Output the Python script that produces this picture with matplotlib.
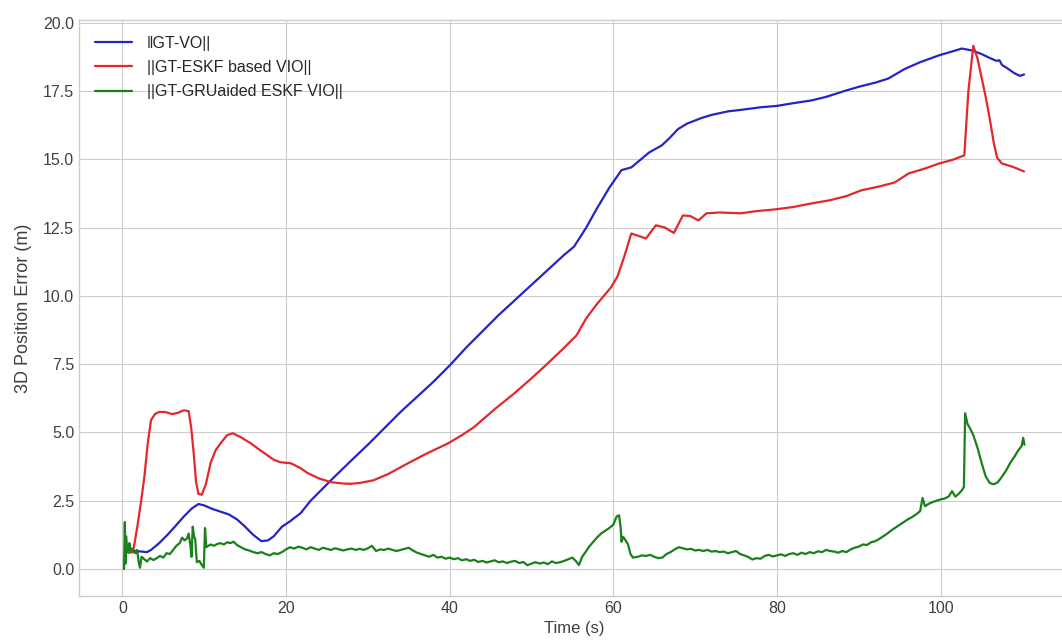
import matplotlib
matplotlib.use("Agg")
import matplotlib.pyplot as plt

plt.style.use("seaborn-v0_8-whitegrid")
plt.rcParams["font.family"] = ["Liberation Sans", "DejaVu Sans"]

# ||GT-VO||
vo_t = [0.5, 1.2, 2.0, 3.0, 3.5, 4.5, 5.5, 6.5, 7.5, 8.5, 9.3, 10.0, 11.0, 12.0,
        13.0, 14.0, 15.0, 16.0, 17.0, 17.8, 18.5, 19.5, 20.5, 21.8, 23.0, 24.5,
        26.0, 28.0, 30.0, 32.0, 34.0, 36.0, 38.0, 40.0, 42.0, 44.0, 46.0, 48.0,
        50.0, 52.0, 54.0, 55.2, 56.7, 58.0, 59.5, 61.0, 62.2, 63.2, 64.4, 65.9,
        66.8, 67.9, 69.0, 70.7, 72.0, 74.0, 76.0, 78.0, 80.0, 82.0, 84.2, 86.0,
        88.3, 90.0, 92.0, 93.6, 95.6, 97.5, 99.8, 101.5, 102.6, 103.8, 105.0,
        105.9, 106.8, 107.2, 107.5, 108.3, 109.0, 109.7, 110.2]
vo_err = [0.70, 0.67, 0.65, 0.62, 0.70, 0.95, 1.25, 1.58, 1.92, 2.22, 2.38, 2.33,
          2.20, 2.10, 2.00, 1.82, 1.55, 1.25, 1.02, 1.05, 1.20, 1.55, 1.75, 2.05,
          2.50, 2.95, 3.40, 3.98, 4.55, 5.15, 5.75, 6.30, 6.85, 7.45, 8.10, 8.70,
          9.30, 9.85, 10.40, 10.95, 11.50, 11.80, 12.50, 13.20, 13.95, 14.60,
          14.70, 14.95, 15.25, 15.50, 15.75, 16.10, 16.30, 16.50, 16.62, 16.75,
          16.82, 16.90, 16.95, 17.05, 17.15, 17.28, 17.50, 17.65, 17.80, 17.95,
          18.30, 18.55, 18.80, 18.95, 19.05, 18.98, 18.85, 18.72, 18.60, 18.62,
          18.45, 18.30, 18.15, 18.05, 18.10]

# ||GT-ESKF based VIO||
eskf_t = [0.8, 1.3, 1.8, 2.3, 2.7, 3.1, 3.5, 4.0, 4.5, 5.2, 6.1, 6.8, 7.5, 8.1,
          8.4, 8.7, 9.0, 9.3, 9.7, 10.2, 10.8, 11.4, 12.0, 12.8, 13.5, 14.5, 15.7,
          16.7, 17.7, 18.5, 19.3, 20.6, 21.8, 22.6, 24.0, 25.5, 27.0, 27.9, 29.0,
          30.7, 32.5, 34.9, 37.0, 39.8, 41.5, 43.0, 45.5, 47.9, 50.0, 52.0, 54.0,
          55.5, 56.7, 58.0, 59.7, 60.5, 61.3, 62.2, 63.0, 64.0, 65.2, 66.3, 67.4,
          68.5, 69.4, 70.4, 71.4, 73.0, 75.6, 77.5, 79.7, 82.0, 84.2, 86.5, 88.5,
          90.3, 92.5, 94.4, 96.1, 98.0, 99.8, 101.5, 102.9, 103.4, 104.0, 104.5,
          105.0, 105.5, 106.0, 106.5, 106.9, 107.5, 108.2, 109.0, 110.2]
eskf_err = [0.60, 0.62, 1.50, 2.50, 3.40, 4.60, 5.45, 5.68, 5.75, 5.75, 5.67, 5.72,
            5.81, 5.78, 5.20, 4.30, 3.20, 2.75, 2.72, 3.10, 3.90, 4.35, 4.60, 4.90,
            4.97, 4.82, 4.60, 4.38, 4.17, 4.00, 3.91, 3.87, 3.69, 3.52, 3.32, 3.18,
            3.13, 3.12, 3.15, 3.25, 3.48, 3.87, 4.20, 4.60, 4.90, 5.20, 5.85, 6.43,
            6.98, 7.53, 8.10, 8.55, 9.18, 9.70, 10.30, 10.70, 11.40, 12.28, 12.20,
            12.10, 12.58, 12.50, 12.30, 12.94, 12.92, 12.76, 13.02, 13.05, 13.02,
            13.10, 13.16, 13.25, 13.38, 13.50, 13.65, 13.86, 14.00, 14.15, 14.48,
            14.65, 14.84, 14.98, 15.14, 17.50, 19.15, 18.70, 18.00, 17.30, 16.50,
            15.60, 15.06, 14.84, 14.78, 14.70, 14.55]

# ||GT-GRUaided ESKF VIO||
gru_t = [0.20, 0.30, 0.38, 0.45, 0.55, 0.70, 0.85, 1.00, 1.20, 1.40, 1.60, 1.80,
         2.00, 2.15, 2.35, 2.60, 3.00, 3.40, 3.80, 4.20, 4.60, 5.00, 5.40, 5.80,
         6.20, 6.60, 7.00, 7.30, 7.60, 7.90, 8.10, 8.30, 8.45, 8.60, 8.75, 8.90,
         9.10, 9.40, 9.70, 9.95, 10.10, 10.25, 10.50, 10.80, 11.20, 11.60, 12.00,
         12.40, 12.80, 13.20, 13.60, 14.00, 14.50, 15.00, 15.50, 16.00, 16.50,
         17.00, 17.50, 18.00, 18.50, 19.00, 19.50, 20.00, 20.50, 21.00, 21.50,
         22.00, 22.50, 23.00, 23.50, 24.00, 24.50, 25.00, 25.50, 26.00, 26.50,
         27.00, 27.50, 28.00, 28.50, 29.00, 29.50, 30.00, 30.50, 31.00, 31.50,
         32.00, 32.50, 33.00, 33.50, 34.00, 34.50, 35.00, 35.50, 36.00, 36.50,
         37.00, 37.50, 38.00, 38.50, 39.00, 39.50, 40.00, 40.50, 41.00, 41.50,
         42.00, 42.50, 43.00, 43.50, 44.00, 44.50, 45.00, 45.50, 46.00, 46.50,
         47.00, 47.50, 48.00, 48.50, 49.00, 49.50, 50.00, 50.50, 51.00, 51.50,
         52.00, 52.50, 53.00, 53.50, 54.00, 54.50, 55.00, 55.40, 55.80, 56.20,
         56.60, 57.00, 57.50, 58.00, 58.50, 59.00, 59.50, 60.00, 60.40, 60.70,
         60.90, 61.00, 61.20, 61.50, 61.80, 62.10, 62.40, 63.00, 63.50, 64.00,
         64.50, 65.00, 65.50, 66.00, 66.50, 67.00, 67.50, 68.00, 68.50, 69.00,
         69.50, 70.00, 70.50, 71.00, 71.50, 72.00, 72.50, 73.00, 73.50, 74.00,
         74.50, 75.00, 75.50, 76.00, 76.50, 77.00, 77.50, 78.00, 78.50, 79.00,
         79.50, 80.00, 80.50, 81.00, 81.50, 82.00, 82.50, 83.00, 83.50, 84.00,
         84.50, 85.00, 85.50, 86.00, 86.50, 87.00, 87.50, 88.00, 88.50, 89.00,
         89.50, 90.00, 90.50, 91.00, 91.50, 92.00, 92.50, 93.00, 93.50, 94.00,
         94.50, 95.00, 95.50, 96.00, 96.50, 97.00, 97.50, 97.80, 98.10, 98.50,
         99.00, 99.50, 100.00, 100.50, 101.00, 101.40, 101.80, 102.20, 102.60,
         102.85, 103.00, 103.30, 103.60, 104.00, 104.50, 105.00, 105.50, 106.00,
         106.50, 107.00, 107.50, 108.00, 108.50, 109.00, 109.50, 109.90, 110.10,
         110.25]
gru_err = [0.00, 1.72, 0.20, 1.20, 0.85, 0.60, 0.95, 0.70, 0.75, 0.62, 0.58, 0.70,
           0.25, 0.05, 0.45, 0.38, 0.28, 0.40, 0.33, 0.40, 0.48, 0.42, 0.58, 0.55,
           0.70, 0.85, 0.95, 1.15, 1.05, 1.12, 1.30, 0.90, 0.45, 1.55, 1.20, 1.10,
           0.25, 0.30, 0.15, 0.05, 1.50, 0.80, 0.85, 0.90, 0.85, 0.92, 0.95,
           0.90, 0.98, 0.95, 1.00, 0.88, 0.80, 0.72, 0.68, 0.62, 0.58,
           0.62, 0.55, 0.50, 0.58, 0.55, 0.62, 0.72, 0.80, 0.75, 0.82,
           0.78, 0.72, 0.80, 0.75, 0.70, 0.78, 0.74, 0.70, 0.76, 0.72,
           0.68, 0.72, 0.75, 0.70, 0.74, 0.70, 0.76, 0.85, 0.66, 0.72,
           0.70, 0.75, 0.70, 0.66, 0.70, 0.74, 0.78, 0.68, 0.60, 0.55,
           0.50, 0.45, 0.52, 0.42, 0.45, 0.38, 0.42, 0.36, 0.40, 0.32,
           0.36, 0.30, 0.34, 0.26, 0.30, 0.24, 0.28, 0.32, 0.25, 0.28,
           0.22, 0.27, 0.30, 0.22, 0.26, 0.14, 0.20, 0.25, 0.20, 0.24,
           0.18, 0.28, 0.22, 0.25, 0.30, 0.36, 0.42, 0.30, 0.15, 0.45,
           0.62, 0.80, 0.98, 1.15, 1.30, 1.40, 1.50, 1.62, 1.92, 1.97,
           1.50, 1.00, 1.18, 1.05, 0.90, 0.55, 0.42, 0.45, 0.50, 0.48,
           0.52, 0.45, 0.40, 0.42, 0.55, 0.62, 0.72, 0.80, 0.76, 0.72,
           0.74, 0.68, 0.70, 0.66, 0.70, 0.64, 0.66, 0.62, 0.64, 0.58,
           0.62, 0.66, 0.55, 0.50, 0.44, 0.35, 0.40, 0.38, 0.48, 0.52,
           0.46, 0.50, 0.54, 0.48, 0.55, 0.58, 0.52, 0.60, 0.55, 0.62,
           0.58, 0.65, 0.62, 0.70, 0.66, 0.64, 0.60, 0.66, 0.62, 0.72,
           0.78, 0.82, 0.90, 0.88, 0.98, 1.02, 1.10, 1.20, 1.30, 1.42,
           1.52, 1.62, 1.72, 1.82, 1.90, 2.00, 2.12, 2.60, 2.30, 2.38,
           2.45, 2.50, 2.55, 2.58, 2.66, 2.85, 2.65, 2.75, 2.88,
           3.00, 5.70, 5.30, 5.15, 4.90, 4.45, 3.90, 3.40, 3.15,
           3.10, 3.18, 3.38, 3.60, 3.88, 4.10, 4.35, 4.50, 4.80,
           4.55]

fig = plt.figure(figsize=(10.62, 6.4), dpi=100)
# right edge of the axes runs past the picture, as in the reference crop
ax = fig.add_axes([0.0744, 0.069, 0.933, 0.90])

ax.plot(vo_t, vo_err, color="#2424c8", linewidth=1.6, label="‖GT-VO||")
ax.plot(eskf_t, eskf_err, color="#e2282c", linewidth=1.6,
        label="||GT-ESKF based VIO||")
ax.plot(gru_t, gru_err, color="#1a801a", linewidth=1.6,
        label="||GT-GRUaided ESKF VIO||")

ax.set_xlim(-5.3, 115.8)
ax.set_ylim(-0.98, 20.1)
ax.set_yticks([0.0, 2.5, 5.0, 7.5, 10.0, 12.5, 15.0, 17.5, 20.0])
ax.set_xticks([0, 20, 40, 60, 80, 100])
ax.tick_params(labelsize=11.5, labelcolor="0.25")
ax.set_xlabel("Time (s)", fontsize=12, color="0.25")
ax.set_ylabel("3D Position Error (m)", fontsize=13, color="0.25", labelpad=8)
ax.legend(loc="upper left", fontsize=11.5, frameon=False, handlelength=2.3,
          handletextpad=0.95, labelspacing=0.58, borderaxespad=0.6)

for s in ax.spines.values():
    s.set_visible(True)
    s.set_color("0.8")

fig.savefig("out.png", dpi=100)
